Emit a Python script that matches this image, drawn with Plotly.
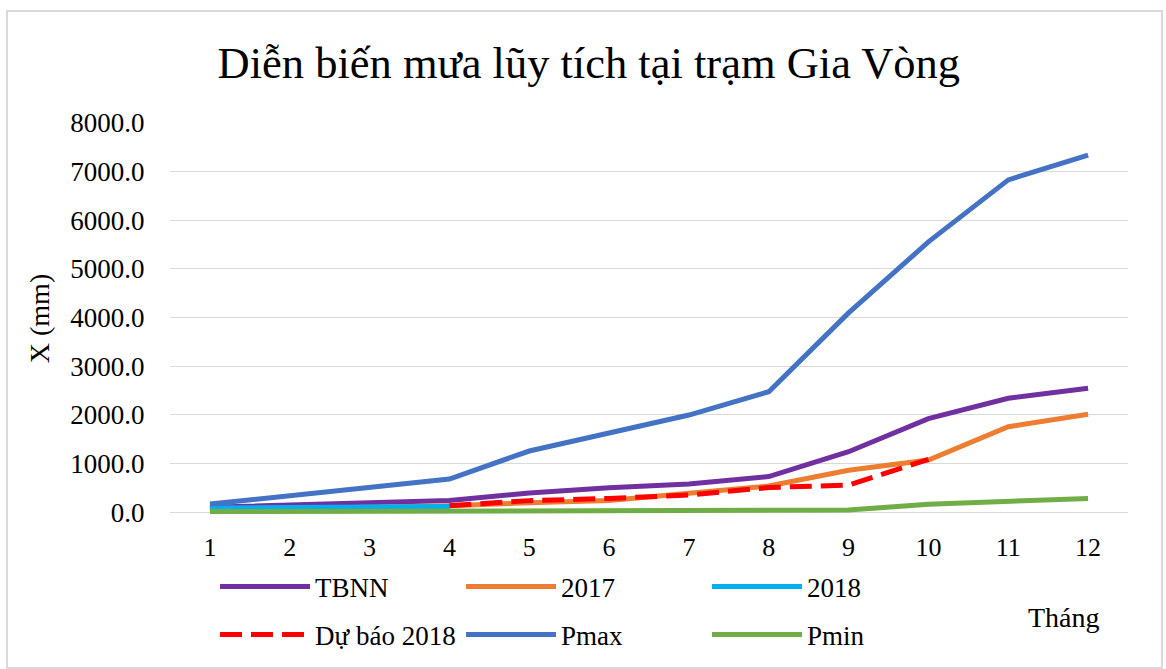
import plotly.graph_objects as go

months = list(range(1, 13))
tick_labels = [str(m) for m in months]
tbnn = [100, 140, 180, 240, 390, 500, 575, 730, 1240, 1920, 2340, 2545]
y2017 = [40, 70, 100, 130, 190, 240, 385, 535, 860, 1070, 1755, 2010]
y2018 = [85, 95, 105, 115, None, None, None, None, None, None, None, None]
du_bao_2018 = [None, None, None, 130, 235, 280, 350, 505, 555, 1085, None, None]
pmax = [165, 330, 495, 680, 1255, 1625, 1995, 2475, 4095, 5555, 6830, 7340]
pmin = [10, 15, 20, 25, 30, 30, 35, 35, 40, 160, 210, 280]

FONT = "Liberation Serif, Times New Roman, serif"
W = 5

series = [
    ("TBNN", tbnn, "#7030A0", "solid", "legend"),
    ("2017", y2017, "#ED7D31", "solid", "legend"),
    ("2018", y2018, "#00B0F0", "solid", "legend"),
    ("Dự báo 2018", du_bao_2018, "#FF0000", "22px,9px", "legend2"),
    ("Pmax", pmax, "#4472C4", "solid", "legend2"),
    ("Pmin", pmin, "#70AD47", "solid", "legend2"),
]

fig = go.Figure()
for name, vals, color, dash, leg in series:
    fig.add_trace(go.Scatter(
        x=months, y=vals, name=name, mode="lines", legend=leg,
        line=dict(color=color, width=W, dash=dash),
        connectgaps=False,
    ))

HW, HH = 1166, 669
L, R, T, B = 170, 38, 123, 155
PW, PH = HW - L - R, HH - T - B
fig.update_layout(
    width=HW, height=HH,
    margin=dict(l=L, r=R, t=T, b=B, autoexpand=False),
    paper_bgcolor="white", plot_bgcolor="white",
    font=dict(family=FONT, color="#000000", size=26),
    title=dict(text="Diễn biến mưa lũy tích tại trạm Gia Vòng",
               font=dict(family=FONT, size=44.5, color="#000000"),
               x=0.505, xanchor="center", y=0.907, yanchor="middle"),
    xaxis=dict(range=[0.5, 12.5], tickmode="array", tickvals=months, ticktext=tick_labels,
               showgrid=False, zeroline=False, showline=False,
               ticks="outside", ticklen=0, tickcolor="white", ticklabelstandoff=10,
               tickfont=dict(family=FONT, size=26)),
    yaxis=dict(range=[-40, 8000], dtick=1000, tick0=0, tickformat=".1f",
               showgrid=True, gridcolor="#D9D9D9", gridwidth=1.3,
               zeroline=False, showline=False,
               ticks="outside", ticklen=0, tickcolor="white", ticklabelstandoff=19,
               tickfont=dict(family=FONT, size=27),
               title=dict(text="X (mm)", font=dict(family=FONT, size=28), standoff=12)),
    legend=dict(orientation="h", x=0.047, xanchor="left",
                yref="container", y=1 - 587 / HH, yanchor="middle",
                itemwidth=90, entrywidth=141, font=dict(family=FONT, size=27),
                bgcolor="rgba(0,0,0,0)"),
    legend2=dict(orientation="h", x=0.047, xanchor="left",
                 yref="container", y=1 - 635 / HH, yanchor="middle",
                 itemwidth=90, entrywidth=141, font=dict(family=FONT, size=27),
                 bgcolor="rgba(0,0,0,0)"),
    showlegend=True,
)

fig.add_annotation(text="Tháng", xref="paper", yref="paper",
                   x=(1064 - L) / PW, y=(HH - B - 617) / PH,
                   xanchor="center", yanchor="middle", showarrow=False,
                   font=dict(family=FONT, size=28, color="#000000"))

fig.add_shape(type="rect", xref="paper", yref="paper",
              x0=(7 - L) / PW, x1=(1162 - L) / PW,
              y0=(HH - B - 668) / PH, y1=(HH - B - 11) / PH,
              line=dict(color="#D9D9D9", width=2), fillcolor="rgba(0,0,0,0)", layer="below")

fig.write_html("out.html", config={"displayModeBar": False},
               post_script="document.body.style.margin='0';")
